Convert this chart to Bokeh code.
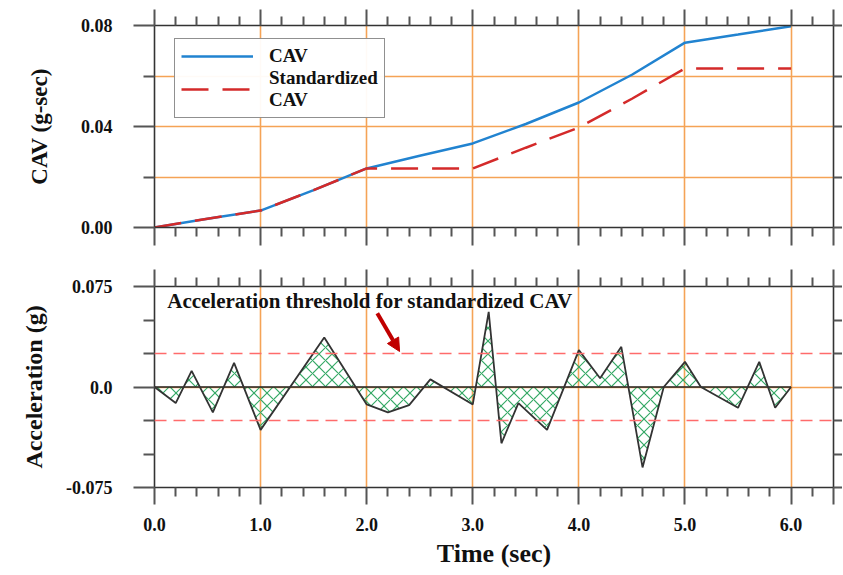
from bokeh.plotting import figure
from bokeh.models import (Range1d, LinearAxis, FixedTicker, Legend, LegendItem, Label,
                          Arrow, NormalHead, Span, PrintfTickFormatter, Grid)
from bokeh.layouts import column
from bokeh.embed import file_html
from bokeh.resources import INLINE

# ---------------- data ----------------
cav_t = [0, 0.5, 1.0, 1.5, 2.0, 2.5, 3.0, 3.5, 4.0, 4.5, 5.0, 5.5, 6.0]
cav_v = [0, 0.0035, 0.0067, 0.0148, 0.0234, 0.0284, 0.0333, 0.0410, 0.0495,
         0.0605, 0.0732, 0.0764, 0.0797]

std_t = [0, 0.5, 1.0, 1.5, 2.0, 3.0, 3.5, 4.0, 4.5, 5.0, 6.0]
std_v = [0, 0.0035, 0.0067, 0.0148, 0.0234, 0.0234, 0.0316, 0.0396, 0.0510,
         0.0630, 0.0630]

acc_t = [0, 0.2, 0.35, 0.55, 0.75, 1.0, 1.6, 2.0, 2.2, 2.4, 2.6, 3.0, 3.15, 3.27,
         3.43, 3.7, 4.0, 4.2, 4.4, 4.6, 4.8, 5.0, 5.15, 5.5, 5.7, 5.85, 6.0]
acc_v = [0, -0.012, 0.012, -0.019, 0.018, -0.032, 0.037, -0.013, -0.019, -0.0135,
         0.0057, -0.013, 0.056, -0.042, -0.012, -0.032, 0.0275, 0.0065, 0.030,
         -0.060, 0.0, 0.0188, 0.0, -0.0155, 0.0188, -0.0155, 0.0]

threshold = 0.025

x_ticks = [0, 1, 2, 3, 4, 5, 6, 6.4]
x_minor = [0.2, 0.4, 0.6, 0.8, 1.2, 1.4, 1.6, 1.8, 2.2, 2.4, 2.6, 2.8, 3.2, 3.4,
           3.6, 3.8, 4.2, 4.4, 4.6, 4.8, 5.2, 5.4, 5.6, 5.8, 6.2]
x_grid = [1, 2, 3, 4, 5, 6]
top_y_ticks = [0, 0.04, 0.08]
top_y_minor = [0.02, 0.06]
top_y_grid = [0.02, 0.04, 0.06]
bot_y_ticks = [-0.075, 0, 0.075]
bot_y_minor = [-0.05, -0.025, 0.025, 0.05]

annot_text = "Acceleration threshold for standardized CAV"
annot_pos = (0.12, 0.064)
arrow_from = (2.10, 0.055)
arrow_to = (2.31, 0.0265)

# ---------------- style ----------------
FONT = "Liberation Serif"
ORANGE = "#f5a356"
AXC = "#333333"
TICKC = "#555555"


def style_axis(ax, tick_out, minor_out, labels=False, size="18px"):
    ax.axis_line_color = AXC
    ax.axis_line_width = 1.6
    ax.major_tick_line_color = TICKC
    ax.major_tick_line_width = 2
    ax.minor_tick_line_color = TICKC
    ax.minor_tick_line_width = 2
    ax.major_tick_in = 0
    ax.minor_tick_in = 0
    ax.major_tick_out = tick_out
    ax.minor_tick_out = minor_out
    ax.major_label_text_font = FONT
    ax.major_label_text_font_style = "bold"
    ax.axis_label_text_font = FONT
    ax.axis_label_text_font_style = "bold"
    ax.axis_label_text_color = "#111111"
    if labels:
        ax.major_label_text_font_size = size
        ax.major_label_text_color = "#111111"
    else:
        ax.major_label_text_font_size = "1px"
        ax.major_label_text_color = None
        ax.major_label_standoff = 0


def make_fig(height, yr, border_top, border_bottom):
    p = figure(width=842, height=height, x_range=Range1d(0, 6.4), y_range=yr,
               output_backend="svg", toolbar_location=None,
               x_axis_location=None, y_axis_location=None,
               min_border_left=154, min_border_right=9,
               min_border_top=border_top, min_border_bottom=border_bottom)
    for g in p.grid:
        g.visible = False
    p.outline_line_color = None
    p.background_fill_color = "white"
    p.border_fill_color = "white"
    return p


# ---------------- top: CAV ----------------
p1 = make_fig(256, Range1d(0, 0.08), 25, 29)
p1.add_layout(Grid(dimension=0, ticker=FixedTicker(ticks=x_grid),
                   grid_line_color=ORANGE, grid_line_width=1.6))
p1.add_layout(Grid(dimension=1, ticker=FixedTicker(ticks=top_y_grid),
                   grid_line_color=ORANGE, grid_line_width=1.6))

ax = LinearAxis(ticker=FixedTicker(ticks=top_y_ticks, minor_ticks=top_y_minor),
                formatter=PrintfTickFormatter(format="%.2f"), axis_label="CAV (g-sec)")
style_axis(ax, 21, 11, labels=True)
ax.major_label_standoff = 21
ax.axis_label_standoff = 26
ax.axis_label_text_font_size = "23px"
p1.add_layout(ax, "left")

ax = LinearAxis(ticker=FixedTicker(ticks=top_y_ticks + top_y_minor))
style_axis(ax, 9, 9)
p1.add_layout(ax, "right")

ax = LinearAxis(ticker=FixedTicker(ticks=x_ticks, minor_ticks=x_minor))
style_axis(ax, 16, 9)
p1.add_layout(ax, "above")

ax = LinearAxis(ticker=FixedTicker(ticks=x_ticks, minor_ticks=x_minor))
style_axis(ax, 18, 9)
p1.add_layout(ax, "below")

r_cav = p1.line(cav_t, cav_v, line_color="#2183d0", line_width=2.5)
r_std = p1.line(std_t, std_v, line_color="#d42a2a", line_width=2.5, line_dash="27 14")

legend = Legend(items=[LegendItem(label="CAV", renderers=[r_cav]),
                       LegendItem(label="Standardized\nCAV", renderers=[r_std])],
                location=(20, 109))
legend.label_text_font = FONT
legend.label_text_font_style = "bold"
legend.label_text_font_size = "19px"
legend.label_text_color = "#111111"
legend.border_line_color = "#222222"
legend.border_line_width = 1.5
legend.glyph_width = 72
legend.label_standoff = 16
legend.padding = 6
legend.spacing = 0
legend.margin = 0
p1.add_layout(legend)

# ---------------- bottom: acceleration ----------------
p2 = make_fig(318, Range1d(-0.075, 0.075), 30, 87)
p2.add_layout(Grid(dimension=0, ticker=FixedTicker(ticks=x_grid),
                   grid_line_color=ORANGE, grid_line_width=1.6))
p2.add_layout(Grid(dimension=1, ticker=FixedTicker(ticks=[0]),
                   grid_line_color=ORANGE, grid_line_width=1.6))

ax = LinearAxis(ticker=FixedTicker(ticks=bot_y_ticks, minor_ticks=bot_y_minor),
                formatter=PrintfTickFormatter(format="%.3f"),
                major_label_overrides={0: "0.0"}, axis_label="Acceleration (g)")
style_axis(ax, 21, 11, labels=True)
ax.major_label_standoff = 21
ax.axis_label_standoff = 16
ax.axis_label_text_font_size = "24px"
p2.add_layout(ax, "left")

ax = LinearAxis(ticker=FixedTicker(ticks=bot_y_ticks + bot_y_minor))
style_axis(ax, 9, 9)
p2.add_layout(ax, "right")

ax = LinearAxis(ticker=FixedTicker(ticks=x_ticks, minor_ticks=x_minor))
style_axis(ax, 17, 9)
p2.add_layout(ax, "above")

ax = LinearAxis(ticker=FixedTicker(ticks=x_ticks, minor_ticks=x_minor),
                formatter=PrintfTickFormatter(format="%.1f"),
                major_label_overrides={6.4: ""}, axis_label="Time (sec)")
style_axis(ax, 17, 9, labels=True)
ax.major_label_standoff = 13
ax.axis_label_standoff = 5
ax.axis_label_text_font_size = "26px"
p2.add_layout(ax, "below")

p2.varea(x=acc_t, y1=[0] * len(acc_t), y2=acc_v, fill_alpha=0,
         hatch_pattern="x", hatch_color="#34a865", hatch_scale=13, hatch_weight=1.2)
p2.line([acc_t[0], acc_t[-1]], [0, 0], line_color="#222222", line_width=1.6)
p2.line(acc_t, acc_v, line_color="#333333", line_width=1.8)

for lvl in (threshold, -threshold):
    p2.add_layout(Span(location=lvl, dimension="width", line_color="#ff6b6b",
                       line_width=1.5, line_dash="12 7"))

p2.add_layout(Label(x=annot_pos[0], y=annot_pos[1], text=annot_text,
                    text_font=FONT, text_font_style="bold", text_font_size="21px",
                    text_color="#111111", text_baseline="middle"))
p2.add_layout(Arrow(end=NormalHead(size=13, fill_color="#c00000", line_color="#c00000"),
                    x_start=arrow_from[0], y_start=arrow_from[1],
                    x_end=arrow_to[0], y_end=arrow_to[1],
                    line_color="#c00000", line_width=4))

layout = column(p1, p2, spacing=0)
open("out.html", "w").write(file_html(layout, INLINE))
